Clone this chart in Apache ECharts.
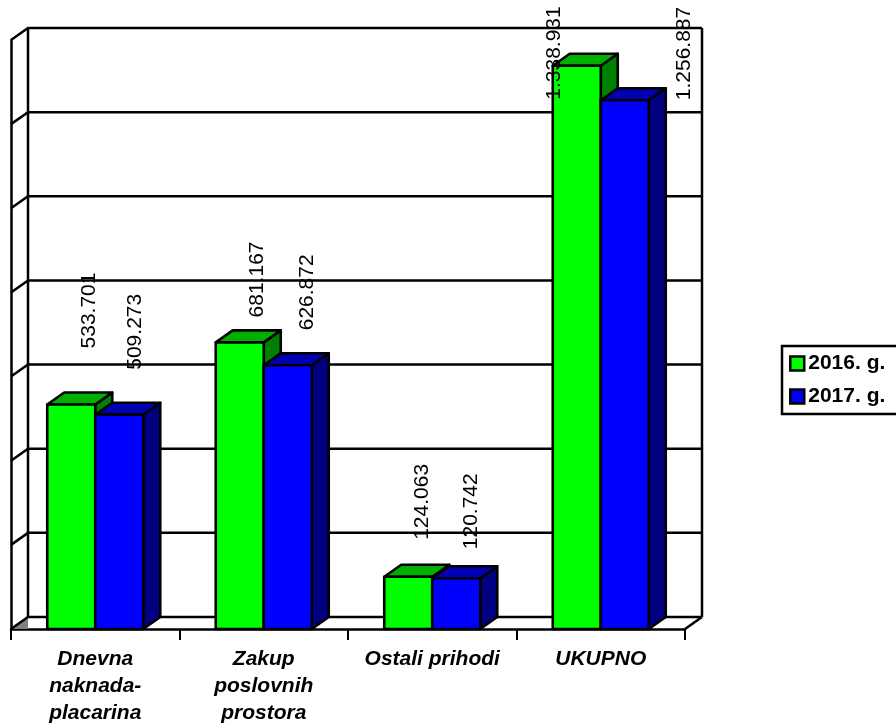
<!DOCTYPE html>
<html>
<head>
<meta charset="utf-8">
<style>html,body{margin:0;padding:0;background:#fff}#c{width:896px;height:724px}</style>
<script src="https://cdn.jsdelivr.net/npm/echarts@6/dist/echarts.min.js"></script>
</head>
<body>
<div id="c"></div>
<script>
const categories = ['Dnevna\nnaknada-\nplacarina', 'Zakup\nposlovnih\nprostora', 'Ostali prihodi', 'UKUPNO'];
const seriesNames = ['2016. g.', '2017. g.'];
const values2016 = [533701, 681167, 124063, 1338931];
const values2017 = [509273, 626872, 120742, 1256887];
const axisTicks = [0, 200000, 400000, 600000, 800000, 1000000, 1200000, 1400000];

const labelShift2016 = [[18, -56], [17, -25], [14, -37], [-23, 34]];
const labelShift2017 = [[16, -45], [19, -35], [15, -29], [59, 0]];

const DX = 17, DY = -12, BAR_W = 48;
const FONT = '"Liberation Sans", Arial, sans-serif';
const fmt = v => String(v).replace(/\B(?=(\d{3})+$)/g, '.');
const black = { stroke: '#000', lineWidth: 2.5, fill: null, lineJoin: 'miter' };

function poly(points, fill) {
  return { type: 'polygon', shape: { points }, style: { fill, stroke: '#000', lineWidth: 2.6, lineJoin: 'round' } };
}

function barSeries(name, values, shifts, dir, front, top, side) {
  return {
    name, type: 'custom', coordinateSystem: 'cartesian2d', clip: false, z: 5,
    itemStyle: { color: front },
    data: values.map((v, i) => [i, v]),
    renderItem(params, api) {
      const i = api.value(0), v = api.value(1);
      const c = api.coord([i, v]), b = api.coord([i, 0]);
      const x0 = dir < 0 ? c[0] - BAR_W : c[0], x1 = x0 + BAR_W;
      const yT = c[1], yB = b[1];
      const s = shifts[i];
      return {
        type: 'group',
        children: [
          poly([[x1, yB], [x1 + DX, yB + DY], [x1 + DX, yT + DY], [x1, yT]], side),
          poly([[x0, yT], [x0 + DX, yT + DY], [x1 + DX, yT + DY], [x1, yT]], top),
          poly([[x0, yT], [x1, yT], [x1, yB], [x0, yB]], front),
          {
            type: 'text', x: x0 + BAR_W / 2 + s[0], y: yT + s[1], rotation: Math.PI / 2, z2: 50,
            style: { text: fmt(v), fill: '#000', font: '21px ' + FONT, textAlign: 'left', textVerticalAlign: 'middle' }
          }
        ]
      };
    }
  };
}

const wallSeries = {
  name: 'wall', type: 'custom', coordinateSystem: 'cartesian2d', clip: false, z: 1,
  data: axisTicks.map(t => [0, t]),
  renderItem(params, api) {
    const cs = params.coordSys, L = cs.x, R = cs.x + cs.width;
    const t = api.value(1), y = api.coord([0, t])[1];
    const children = [];
    if (t === 0) {
      children.push({ type: 'polygon', shape: { points: [[L, y], [L + DX, y + DY], [L + DX, y]] }, style: { fill: '#808080' } });
      children.push({ type: 'polyline', shape: { points: [[R, y], [R + DX, y + DY]] }, style: black });
    }
    if (t === axisTicks[axisTicks.length - 1]) {
      const yB = api.coord([0, 0])[1] + DY;
      children.push({ type: 'polyline', shape: { points: [[L + DX, y + DY], [L + DX, yB]] }, style: black });
      children.push({ type: 'polyline', shape: { points: [[R + DX, y + DY], [R + DX, yB]] }, style: black });
    }
    children.push({ type: 'polyline', shape: { points: [[L, y], [L + DX, y + DY], [R + DX, y + DY]] }, style: black });
    return { type: 'group', children };
  }
};

const chart = echarts.init(document.getElementById('c'), null, { renderer: 'canvas' });
chart.setOption({
  animation: false,
  backgroundColor: '#fff',
  textStyle: { fontFamily: FONT },
  grid: { left: 11, right: 211, top: 40, bottom: 95, containLabel: false, outerBoundsMode: 'none' },
  legend: {
    data: seriesNames, orient: 'vertical', left: 782, top: 346,
    padding: [7, 14, 7, 7], itemGap: 12, itemWidth: 14, itemHeight: 14,
    borderColor: '#000', borderWidth: 2.5, backgroundColor: '#fff',
    icon: 'rect',
    itemStyle: { borderColor: '#000', borderWidth: 2.5 },
    textStyle: { color: '#000', fontWeight: 'bold', fontSize: 21, fontFamily: FONT, padding: [0, 0, 0, -1] },
    selectedMode: false
  },
  xAxis: {
    type: 'category', data: categories,
    axisLine: { show: true, onZero: false, lineStyle: { color: '#000', width: 2.5 } },
    axisTick: { show: true, alignWithLabel: false, length: 11, lineStyle: { color: '#000', width: 2 } },
    axisLabel: { interval: 0, margin: 17, color: '#000', fontSize: 21, fontWeight: 'bold', fontStyle: 'italic', fontFamily: FONT, lineHeight: 27, verticalAlign: 'top' },
    splitLine: { show: false }
  },
  yAxis: {
    type: 'value', min: 0, max: 1400000, interval: 200000,
    axisLine: { show: true, lineStyle: { color: '#000', width: 2.5 } },
    axisTick: { show: false }, axisLabel: { show: false }, splitLine: { show: false }
  },
  series: [
    wallSeries,
    barSeries(seriesNames[0], values2016, labelShift2016, -1, '#00FF00', '#00B000', '#008000'),
    barSeries(seriesNames[1], values2017, labelShift2017, 1, '#0000FF', '#0000B0', '#000080')
  ]
});
</script>
</body>
</html>
